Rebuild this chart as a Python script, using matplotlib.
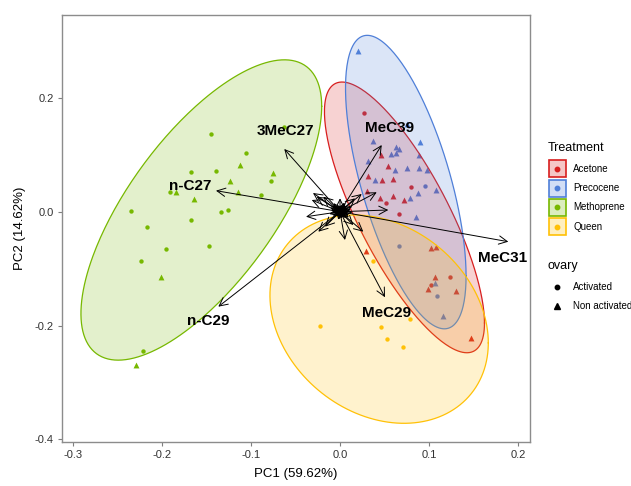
import numpy as np
import matplotlib
matplotlib.use("Agg")
import matplotlib.pyplot as plt
from matplotlib.patches import Rectangle
from matplotlib.lines import Line2D

plt.rcParams['font.family'] = ['Liberation Sans', 'DejaVu Sans']

# --- data -------------------------------------------------------------
groups = ['Acetone', 'Precocene', 'Methoprene', 'Queen']
colors = {'Acetone': '#D81E1E', 'Precocene': '#4F7FD8',
          'Methoprene': '#77B800', 'Queen': '#FFC107'}

# individuals (PC1, PC2), split by treatment and ovary state
ace_act_x = [0.0273, 0.0795, 0.0521, 0.0667, 0.1237, 0.1020]
ace_act_y = [0.1728, 0.0428, 0.0158, -0.0046, -0.1141, -0.1287]
ace_non_x = [0.0465, 0.0540, 0.0315, 0.0472, 0.0596, 0.0307, 0.0447, 0.0593,
             0.0720, 0.0292, 0.1024, 0.1080, 0.1069, 0.0993, 0.1305, 0.1474]
ace_non_y = [0.1001, 0.0808, 0.0632, 0.0551, 0.0569, 0.0363, 0.0235, 0.0270,
             0.0200, -0.0690, -0.0632, -0.0615, -0.1141, -0.1357, -0.1398, -0.2212]

pre_act_x = [0.0960, 0.0667, 0.1088]
pre_act_y = [0.0451, -0.0602, -0.1480]
pre_non_x = [0.0206, 0.0754, 0.0371, 0.0633, 0.0660, 0.0570, 0.0627, 0.0900,
             0.0889, 0.0318, 0.0757, 0.0622, 0.0892, 0.0975, 0.0397, 0.0791,
             0.0881, 0.1076, 0.0855, 0.1069, 0.1162]
pre_non_y = [0.2827, 0.1540, 0.1241, 0.1141, 0.1101, 0.1018, 0.1025, 0.1219,
             0.0996, 0.0885, 0.0773, 0.0732, 0.0773, 0.0727, 0.0551, 0.0235,
             0.0328, 0.0386, -0.0088, -0.1247, -0.1826]

met_act_x = [-0.0627, -0.1451, -0.1061, -0.1395, -0.1676, -0.0776, -0.0889,
             -0.1912, -0.2348, -0.1342, -0.1260, -0.1676, -0.2171, -0.1957,
             -0.1474, -0.2235, -0.2213]
met_act_y = [0.1493, 0.1364, 0.1031, 0.0715, 0.0698, 0.0534, 0.0288, 0.0346,
             0.0007, 0.0000, 0.0030, -0.0146, -0.0274, -0.0655, -0.0608,
             -0.0860, -0.2446]
met_non_x = [-0.1125, -0.0750, -0.1237, -0.1144, -0.1845, -0.1639, -0.2013, -0.2291]
met_non_y = [0.0820, 0.0679, 0.0539, 0.0346, 0.0346, 0.0218, -0.1141, -0.2697]

que_act_x = [0.0368, -0.0225, 0.0458, 0.0529, 0.0705, 0.0791]
que_act_y = [-0.0866, -0.2002, -0.2019, -0.2241, -0.2371, -0.1879]
que_non_x = []
que_non_y = []

# concentration ellipses: centre, half ranges, phase
ell_cx = [0.0725, 0.0740, -0.1560, 0.0440]
ell_cy = [-0.0100, 0.0520, 0.0030, -0.1887]
ell_rx = [0.0900, 0.0678, 0.1354, 0.1228]
ell_ry = [0.2377, 0.2577, 0.2637, 0.1829]
ell_ph = [-0.895, -0.694, 0.762, -0.230]

# variable loadings (labelled ones)
var_names = ['3MeC27', 'n-C27', 'n-C29', 'MeC39', 'MeC31', 'MeC29']
var_x = [-0.0627, -0.1395, -0.1369, 0.0469, 0.1893, 0.0506]
var_y = [0.1101, 0.0369, -0.1668, 0.1171, -0.0527, -0.1503]
lab_x = [-0.0610, -0.1687, -0.1481, 0.0559, 0.1828, 0.0525]
lab_y = [0.1422, 0.0457, -0.1919, 0.1464, -0.0818, -0.1773]

# remaining (unlabelled) loadings
oth_x = [-0.0382, -0.0304, -0.0262, -0.0318, -0.0188, -0.0244, -0.0169, 0.0056,
         0.0262, 0.0150, 0.0244, 0.0413, 0.0169, 0.0543, 0.0000,
         0.008, 0.012, -0.006, -0.010, 0.004, -0.003, 0.010, 0.006, -0.008,
         0.002, 0.013, -0.012, 0.007, -0.005, 0.011, 0.009, -0.009,
         0.005, -0.007, 0.014, -0.002, 0.003, -0.011, 0.010, -0.004]
oth_y = [-0.0088, 0.0328, 0.0263, 0.0205, 0.0263, -0.0351, -0.0263, -0.0497,
         -0.0351, -0.0234, 0.0311, 0.0341, 0.0235, 0.0030, 0.0235,
         0.010, 0.004, 0.008, 0.003, -0.009, 0.012, -0.006, 0.014, -0.007,
         -0.012, 0.009, -0.004, -0.011, 0.006, 0.001, -0.002, 0.011,
         0.016, 0.015, -0.001, -0.014, 0.005, 0.007, -0.010, 0.002]

pts = {
    'Acetone': (ace_act_x, ace_act_y, ace_non_x, ace_non_y),
    'Precocene': (pre_act_x, pre_act_y, pre_non_x, pre_non_y),
    'Methoprene': (met_act_x, met_act_y, met_non_x, met_non_y),
    'Queen': (que_act_x, que_act_y, que_non_x, que_non_y),
}

# --- figure -----------------------------------------------------------
W, H = 631, 486
fig = plt.figure(figsize=(W / 100, H / 100), dpi=100)
ax = fig.add_axes([62 / W, 1 - 441.7 / H, (530 - 62) / W, (441.7 - 15) / H])

for g in groups:
    ax_, ay_, nx_, ny_ = pts[g]
    ax.scatter(ax_, ay_, s=10, marker='o', color=colors[g], lw=0, zorder=2)
    ax.scatter(nx_, ny_, s=18, marker='^', color=colors[g], lw=0, zorder=2)

t = np.linspace(0, 2 * np.pi, 300)
for i, g in enumerate(groups):
    ex = ell_cx[i] + ell_rx[i] * np.cos(t)
    ey = ell_cy[i] + ell_ry[i] * np.sin(t + ell_ph[i])
    ax.fill(ex, ey, facecolor=colors[g], alpha=0.2, edgecolor='none', zorder=3)
    ax.plot(ex, ey, color=colors[g], lw=0.9, zorder=3)

astyle = '->,head_length=0.6,head_width=0.3'
for x, y in zip(oth_x + var_x, oth_y + var_y):
    ax.annotate('', xy=(x, y), xytext=(0, 0),
                arrowprops=dict(arrowstyle=astyle, lw=0.7, color='black',
                                shrinkA=0, shrinkB=0), zorder=4)
for n, x, y in zip(var_names, lab_x, lab_y):
    ax.text(x, y, n, fontsize=11, fontweight='bold', ha='center', va='center', zorder=5)

ax.set_xlim(-0.3127, 0.2137)
ax.set_ylim(-0.4039, 0.3454)
ax.set_xticks([-0.3, -0.2, -0.1, 0.0, 0.1, 0.2])
ax.set_xticklabels(['-0.3', '-0.2', '-0.1', '0.0', '0.1', '0.2'])
ax.set_yticks([-0.4, -0.2, 0.0, 0.2])
ax.set_yticklabels(['-0.4', '-0.2', '0.0', '0.2'])
ax.tick_params(length=3, width=0.8, color='#7f7f7f', labelsize=8,
               labelcolor='#333333', pad=3)
for sp in ax.spines.values():
    sp.set_color('#8c8c8c')
    sp.set_linewidth(1.0)
ax.set_xlabel('PC1 (59.62%)', fontsize=9.5, labelpad=6)
ax.set_ylabel('PC2 (14.62%)', fontsize=9.5, labelpad=6)

# --- legends (drawn by hand) ------------------------------------------
def fx(px):
    return px / W

def fy(py):
    return 1 - py / H

fig.text(fx(548), fy(147.7), 'Treatment', fontsize=9, va='center', ha='left')
rows = [169, 188.3, 207.3, 226.7]
for g, r in zip(groups, rows):
    fig.add_artist(Rectangle((fx(548.5), fy(r + 8.5)), 17 / W, 17 / H,
                             transform=fig.transFigure, facecolor=colors[g],
                             alpha=0.25, edgecolor='none'))
    fig.add_artist(Rectangle((fx(548.5), fy(r + 8.5)), 17 / W, 17 / H,
                             transform=fig.transFigure, facecolor='none',
                             edgecolor=colors[g], lw=1.2))
    fig.add_artist(Line2D([fx(557)], [fy(r)], marker='o', markersize=3.2,
                          color=colors[g], transform=fig.transFigure))
    fig.text(fx(573), fy(r), g, fontsize=7, va='center', ha='left')

fig.text(fx(548), fy(266), 'ovary', fontsize=9, va='center', ha='left')
for lab, mk, r in [('Activated', 'o', 286.7), ('Non activated', '^', 306)]:
    fig.add_artist(Line2D([fx(557)], [fy(r)], marker=mk,
                          markersize=3.2 if mk == 'o' else 4.2,
                          color='black', lw=0, transform=fig.transFigure))
    fig.text(fx(573), fy(r), lab, fontsize=7, va='center', ha='left')

fig.savefig('out.png', dpi=100)
